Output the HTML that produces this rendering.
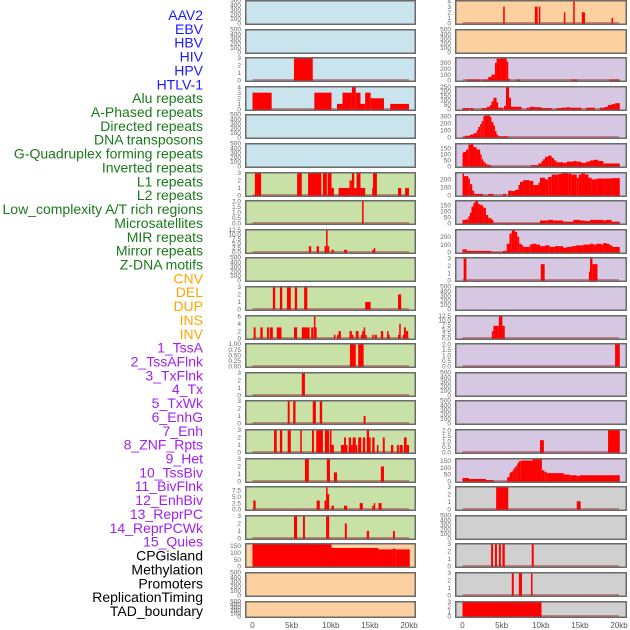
<!DOCTYPE html>
<html><head><meta charset="utf-8"><style>
html,body{margin:0;padding:0;background:#fff;}
svg{display:block;font-family:"Liberation Sans",sans-serif;}
</style></head><body>
<svg id="chart" width="630" height="630" viewBox="0 0 630 630" xmlns="http://www.w3.org/2000/svg"></svg>
<script>
const labels = ["AAV2","EBV","HBV","HIV","HPV","HTLV-1","Alu repeats","A-Phased repeats","Directed repeats","DNA transposons","G-Quadruplex forming repeats","Inverted repeats","L1 repeats","L2 repeats","Low_complexity A/T rich regions","Microsatellites","MIR repeats","Mirror repeats","Z-DNA motifs","CNV","DEL","DUP","INS","INV","1_TssA","2_TssAFlnk","3_TxFlnk","4_Tx","5_TxWk","6_EnhG","7_Enh","8_ZNF_Rpts","9_Het","10_TssBiv","11_BivFlnk","12_EnhBiv","13_ReprPC","14_ReprPCWk","15_Quies","CPGisland","Methylation","Promoters","ReplicationTiming","TAD_boundary"];
const labelGroups = [6,13,5,15,5];
const groupColors = ["#1a1aff","#1a7a1a","#ffa500","#a020f0","#000000"];
const xTicks = [0,5,10,15,20];
const xTickLabels = ["0","5kb","10kb","15kb","20kb"];
const E = [0,100,200,300,400,500];
const T3 = [0,1,2,3];
const leftBg = ["blue","blue","blue","blue","blue","blue","green","green","green","green","green","green","green","green","green","green","green","green","green","orange","orange","orange"];
const leftYMax = [500,500,3.05,4.1,500,500,3.05,2.05,12.7,500,3.05,6.2,1.02,3.05,3.05,3.05,3.05,9,3.05,168,500,500];
const leftTicks = [E,E,T3,[0,1,2,3,4],E,E,T3,[0,0.5,1,1.5,2],[0,2.5,5,7.5,10,12.5],E,T3,[0,2,4,6],[0,0.25,0.5,0.75,1],T3,T3,T3,T3,[0,2.5,5,7.5],T3,[0,50,100,150],E,E];
const leftTickDigits = [0,0,0,0,0,0,0,1,1,0,0,0,2,0,0,0,0,1,0,0,0,0];
const leftSegs = [
 [],[],
 [[5.3,7.7,3]],
 [[0,2.45,3],[7.9,10.1,3],[10.8,11.5,1],[11.5,12.7,3],[12.7,13.2,4],[13.2,13.8,3],[13.8,14.4,1],[14.4,15.1,3],[15.1,16.8,2],[17.6,20,1]],
 [],[],
 [[0.3,1.1,3],[5.7,6.3,3],[7.1,8.8,3],[9.0,9.5,3],[9.6,10.1,3],[10.1,10.4,1],[11.0,12.4,1],[12.4,12.7,2],[12.7,13.0,3],[13.0,13.3,1],[13.3,13.8,3],[13.8,14.4,1],[15.3,15.4,1],[15.4,15.9,3],[18.6,19.0,1],[19.5,20,1]],
 [[14.0,14.2,2.05]],
 [[7.2,7.5,3.5],[8.2,8.5,3.5],[9.2,9.4,3.5],[9.4,9.6,12.5],[9.6,9.8,3.5],[10.1,10.4,1.5],[11.7,12.1,1.5],[15.3,15.5,1.5],[15.5,15.6,2.5]],
 [],
 [[2.6,2.9,3],[3.5,3.8,3],[4.4,4.9,3],[5.4,5.7,3],[6.6,7.0,3],[14.4,15.1,1],[18.6,19.0,2]],
 [[0.15,0.4,3],[1.0,1.3,3],[1.85,2.1,3],[2.2,2.6,3],[3.1,3.7,3],[5.3,5.7,3],[6.3,7.3,3],[7.5,7.8,3],[7.85,8.0,6],[8.0,8.2,3],[10.4,10.6,1],[10.8,11.0,1],[11.0,11.3,2],[12.4,12.7,2],[12.7,12.9,1],[13.2,13.55,2],[13.85,14.0,1],[14.0,14.2,2],[14.2,14.4,3],[14.4,14.5,1],[15.3,15.5,1],[15.6,15.9,1],[16.4,16.7,2],[17.2,17.35,2],[17.35,17.5,1],[18.6,18.75,1],[18.75,18.9,4],[19.2,19.35,1],[19.35,19.6,3],[19.6,19.9,2]],
 [[12.45,13.2,1],[13.5,14.2,1]],
 [[6.3,6.7,3.05]],
 [[4.5,4.75,3.05],[5.2,5.5,3.05],[7.7,8.1,3.05],[8.6,8.9,3.05],[14.2,14.45,1]],
 [[2.75,3.1,3],[3.5,3.8,3],[4.5,4.9,3],[6.1,6.3,3],[7.6,7.85,3],[8.15,9.0,3],[9.25,9.8,3],[9.9,10.05,3],[10.05,10.4,1],[11.3,11.7,1],[11.7,11.95,2],[11.95,12.05,1],[12.3,12.6,2],[12.6,12.8,1],[12.8,13.2,2],[13.2,13.35,1],[13.5,13.9,2],[14.1,14.4,2],[14.6,14.9,3],[14.9,15.1,2],[15.3,15.6,2],[15.9,16.1,1],[16.65,16.9,2],[17.7,18.0,1],[18.45,18.7,1],[18.8,19.2,1],[19.35,19.7,2],[19.7,20,1]],
 [[6.7,7.2,3.05],[9.5,9.9,3.05],[10.4,10.8,1.2],[16.4,16.8,2]],
 [[0.1,0.4,3.5],[8.2,8.6,3.5],[9.2,9.4,3.5],[9.4,9.55,9],[9.55,9.8,6],[10.1,10.4,1.5],[11.7,12.1,1.5],[13.7,14.1,2.5],[15.3,15.5,1.5],[15.5,15.6,2.5],[16.1,16.5,2.5]],
 [[5.3,5.7,3.05],[6.45,6.7,3.05],[9.4,9.8,3.05],[11.8,12.05,2],[14.6,14.9,1],[17.95,18.2,1]],
 [[0,10.1,165],[4.4,4.6,168],[10.1,16.1,135],[16.1,17.9,125],[17.9,18.3,130],[18.3,20.1,125]],
 [],[]
];
const rightBg = ["orange","orange","purple","purple","purple","purple","purple","purple","purple","purple","purple","purple","purple","purple","purple","purple","purple","grey","grey","grey","grey","grey"];
const rightYMax = [4.1,500,390,255,325,190,285,190,290,3.1,500,12.7,2.05,500,500,2.05,165,3.05,500,3.05,3.05,3.1];
const rightTicks = [[0,1,2,3,4],E,[0,100,200,300],[0,50,100,150,200,250],[0,100,200,300],[0,50,100,150],[0,100,200],[0,50,100,150],[0,100,200],T3,E,[0,2.5,5,7.5,10,12.5],[0,0.5,1,1.5,2],E,E,[0,0.5,1,1.5,2],[0,50,100,150],T3,E,T3,T3,T3];
const rightTickDigits = [0,0,0,0,0,0,0,0,0,0,0,1,1,0,0,1,0,0,0,0,0,0];
const rightSegs = [
 [[5.2,5.4,3],[9.25,9.6,3],[9.75,9.95,3],[12.95,13.1,2],[14.15,14.3,4],[15.25,15.65,2],[19.05,19.25,1]],
 [],
 [[0.55,2.25,15],[2.45,3.3,15],[3.3,3.7,60],[3.7,4.15,100],[4.15,4.35,300],[4.35,4.8,370],[4.8,5.65,385],[5.65,5.85,320],[5.85,6.05,30],[6.9,7.35,15],[13.9,14.7,15],[18.8,20.1,15]],
 [[0,0.85,15],[0.95,1.4,15],[2.45,3.1,15],[3.1,3.5,30],[3.5,3.7,50],[3.7,3.95,90],[3.95,4.35,130],[4.35,4.55,80],[4.55,5.2,20],[5.3,5.55,40],[5.55,5.95,250],[5.95,6.2,130],[6.2,7.55,30],[8.2,8.6,20],[8.6,9.25,30],[9.25,10.1,25],[10.1,11.4,15],[12.0,12.65,15],[12.65,13.3,20],[13.3,13.7,25],[13.7,15.2,20],[15.8,16.9,20],[17.55,18.2,20],[18.2,18.6,30],[18.6,19.05,50],[19.05,19.5,60],[19.5,20.1,70]],
 [[0.1,0.3,10],[0.3,0.95,25],[0.95,1.4,40],[1.4,1.8,60],[1.8,2.0,100],[2.0,2.25,150],[2.25,2.45,190],[2.45,2.65,230],[2.65,2.85,300],[2.85,3.5,310],[3.5,3.7,290],[3.7,3.95,220],[3.95,4.15,170],[4.15,4.35,90],[4.35,4.55,40],[4.55,5.85,15]],
 [[0,0.1,110],[0.1,0.45,120],[0.45,0.75,140],[0.75,0.95,180],[0.95,1.4,190],[1.4,1.8,160],[1.8,2.25,140],[2.25,2.45,100],[2.45,2.65,60],[2.65,2.85,40],[2.85,3.1,25],[3.1,3.5,15],[3.5,3.7,5],[8.75,9.7,10],[9.7,10.1,25],[10.1,10.3,45],[10.3,10.55,60],[10.55,10.95,80],[10.95,11.4,90],[11.4,11.7,70],[11.7,12.0,50],[12.0,12.85,35],[12.85,13.3,30],[13.3,14.15,40],[14.15,14.6,45],[14.6,15.2,40],[15.2,15.8,30],[15.8,16.3,40],[16.3,16.7,50],[16.7,17.35,55],[17.35,18.0,45],[18.0,20.1,25]],
 [[0,0.1,270],[0.1,0.75,240],[0.75,0.95,210],[0.95,1.25,140],[1.25,1.5,60],[1.5,2.65,20],[3.3,3.95,20],[5.15,5.55,20],[5.85,6.3,60],[6.3,6.7,55],[6.7,7.15,70],[7.15,7.35,130],[7.35,7.75,170],[7.75,8.6,190],[8.6,9.05,180],[9.05,9.7,130],[9.7,9.9,160],[9.9,10.55,220],[10.55,10.95,200],[10.95,11.4,230],[11.4,12.25,260],[12.25,12.65,265],[12.65,13.5,280],[13.5,13.9,270],[13.9,14.6,260],[14.6,14.85,220],[14.85,15.2,260],[15.2,15.65,280],[15.65,16.1,260],[16.1,16.5,220],[16.5,17.1,200],[17.1,18.2,210],[18.2,19.05,210],[19.05,20.1,215]],
 [[0,0.45,30],[0.45,0.75,35],[0.75,0.95,60],[0.95,1.15,90],[1.15,1.4,140],[1.4,1.6,170],[1.6,2.0,190],[2.0,2.3,160],[2.3,2.65,150],[2.65,3.0,130],[3.0,3.3,70],[3.3,3.7,45],[3.7,3.95,30],[3.95,9.9,3],[9.9,10.95,25],[10.95,11.6,30],[11.6,12.85,25],[12.85,14.15,15],[14.15,15.0,30],[15.0,15.65,25],[15.65,16.3,20],[16.3,18.0,30],[18.0,18.4,25],[18.4,19.05,30],[19.05,20.1,15]],
 [[0,0.55,40],[0.55,3.7,20],[3.7,5.15,5],[5.15,5.65,20],[5.65,6.0,110],[6.0,6.3,240],[6.3,6.7,280],[6.7,7.0,260],[7.0,7.25,200],[7.25,7.55,110],[7.55,7.75,90],[7.75,8.6,70],[8.6,8.85,100],[8.85,9.45,110],[9.45,9.9,100],[9.9,10.55,80],[10.55,11.15,90],[11.15,11.8,70],[11.8,12.25,80],[12.25,12.85,80],[12.85,13.3,60],[13.3,13.9,70],[13.9,14.45,80],[14.45,15.45,90],[15.45,16.3,100],[16.3,16.7,110],[16.7,17.1,100],[17.1,17.75,110],[17.75,18.0,100],[18.0,18.4,120],[18.4,18.8,110],[18.8,19.15,90],[19.15,20.1,70]],
 [[0.15,0.5,3.05],[10.0,10.5,2.2],[16.15,16.3,1.2],[16.3,16.6,3.05],[16.6,17.25,2.2]],
 [],
 [[3.75,3.95,4],[3.95,4.65,7],[4.65,5.1,12.7],[5.1,5.4,7]],
 [[19.5,20.1,2.05]],
 [],[],
 [[9.9,10.4,1.1],[18.6,20.1,2.05]],
 [[0,0.85,25],[0.85,3.0,18],[3.0,4.0,10],[5.7,6.0,30],[6.0,6.15,60],[6.15,6.4,70],[6.4,6.55,80],[6.55,6.75,95],[6.75,7.0,110],[7.0,7.15,130],[7.15,7.45,145],[7.45,8.95,150],[8.95,10.15,160],[10.15,10.45,80],[10.45,10.75,70],[10.75,12.95,60],[12.95,13.7,50],[13.7,14.6,45],[14.6,15.0,40],[15.0,20.1,45]],
 [[4.3,5.85,3.05],[14.6,15.1,1.1]],
 [],
 [[3.65,3.9,3.05],[4.15,4.4,3.05],[4.65,4.9,3.05],[5.1,5.4,3.05],[8.85,9.1,3.05]],
 [[6.3,6.55,3.05],[7.2,7.6,3.05],[8.75,8.95,3.05]],
 [[0,10.1,3.1]]
];
const bgColors = {blue:"#c9e4ec",green:"#c8e1a6",orange:"#fdd09f",purple:"#d6c8e3",grey:"#d0d0d0"};

const NS = "http://www.w3.org/2000/svg";
const svg = document.getElementById("chart");
function mk(tag, attrs, parent){
  const el = document.createElementNS(NS, tag);
  for (const k in attrs) el.setAttribute(k, attrs[k]);
  (parent||svg).appendChild(el);
  return el;
}
function rowTop(i){ return Math.round(i*28.6); }
function rowH(i){ return i===21 ? 17 : 25; }
const KB = 7.825;

let li = 0;
labelGroups.forEach((n, g) => {
  for (let k=0;k<n;k++){
    const t = mk("text",{x:203,y:(15+li*13.86+5).toFixed(1),"text-anchor":"end","font-size":"14",fill:groupColors[g]});
    t.textContent = labels[li];
    
    
    li++;
  }
});

function drawColumn(side, px0, px1, x0, bgs, ymaxs, ticks, digits, segs){
  for (let i=0;i<bgs.length;i++){
    const top = rowTop(i), h = rowH(i), bottom = top+h;
    const g = mk("g",{});
    
    
    const bg = mk("rect",{x:px0,y:top,width:px1-px0,height:h,fill:bgColors[bgs[i]]},g);
    
    
    const y0 = bottom-1.5, span = h-2;
    const ys = v => y0 - Math.min(v/ymaxs[i],1)*span;
    const xs = kb => x0 + kb*KB;
    if (segs[i].length){
      const base = mk("rect",{x:xs(0),y:y0-1.5,width:xs(20)-xs(0),height:2,fill:"rgba(170,30,30,0.45)"},g);
      
      
    }
    segs[i].forEach(s => {
      const xa = xs(s[0]), xb = Math.max(xs(s[1]), xa+1.5);
      const r = mk("rect",{x:xa.toFixed(2),y:ys(s[2]).toFixed(2),width:(xb-xa).toFixed(2),height:(y0-ys(s[2])).toFixed(2),fill:"#ff0000"},g);
      
      
    });
    const fr = mk("rect",{x:px0+0.75,y:top+0.75,width:px1-px0-1.5,height:h-1.5,fill:"none",stroke:"#6a6a6a","stroke-width":1.5},g);
    
    
    ticks[i].forEach(v => {
      const t = mk("text",{x:px0-4,y:(ys(v)+2.2).toFixed(1),"text-anchor":"end","font-size":"6.5",fill:"#666"},g);
      t.textContent = v.toFixed(digits[i]);
      
      
    });
  }
  xTicks.forEach((v,k) => {
    const t = mk("text",{x:x0+v*KB,y:628,"text-anchor":"middle","font-size":"8",fill:"#555"});
    t.textContent = xTickLabels[k];
    
    
  });
}
drawColumn("left",245,416,252.5,leftBg,leftYMax,leftTicks,leftTickDigits,leftSegs);
drawColumn("right",455,627,462.5,rightBg,rightYMax,rightTicks,rightTickDigits,rightSegs);
</script>
</body></html>
